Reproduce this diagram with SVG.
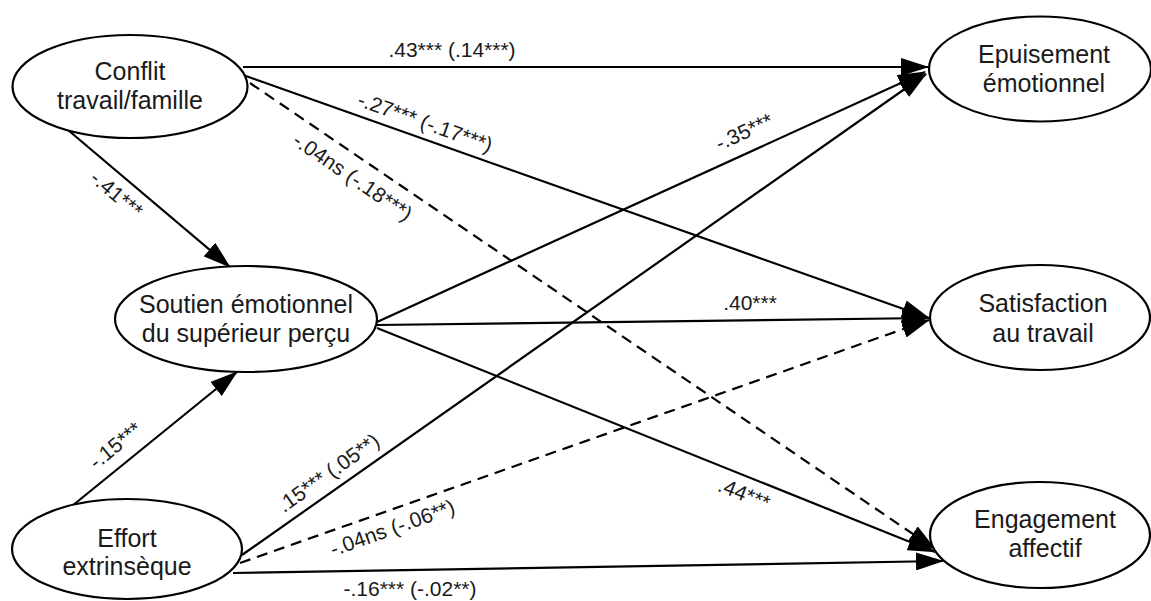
<svg xmlns="http://www.w3.org/2000/svg" width="1151" height="601" viewBox="0 0 1151 601">
<style>
.node ellipse{fill:#fff;stroke:#000;stroke-width:2.2}
.node text{font-family:"Liberation Sans",Arial,sans-serif;font-size:25px;fill:#1a1a1a;text-anchor:middle}
.edge{stroke:#000;stroke-width:2.2;fill:none;marker-end:url(#arr)}
.dash{stroke-dasharray:11 7}
.lbl{font-family:"Liberation Sans",Arial,sans-serif;font-size:21px;fill:#1a1a1a;text-anchor:middle}
</style>
<defs>
<marker id="arr" markerUnits="userSpaceOnUse" markerWidth="28" markerHeight="18" refX="27" refY="9" orient="auto">
<path d="M0,0 L28,9 L0,18 z" fill="#000" stroke="none"/>
</marker>
</defs>
<rect width="1151" height="601" fill="#fff"/>
<g id="connectors">
<line class="edge" x1="243" y1="67" x2="928" y2="67"/>
<line class="edge" x1="243" y1="75" x2="929" y2="318"/>
<line class="edge dash" x1="250" y1="83" x2="935" y2="549"/>
<line class="edge" x1="68" y1="130" x2="230" y2="267"/>
<line class="edge" x1="377" y1="322" x2="925" y2="72"/>
<line class="edge" x1="377" y1="325" x2="929" y2="318"/>
<line class="edge" x1="377" y1="328" x2="935" y2="552"/>
<line class="edge" x1="72" y1="506" x2="237" y2="372"/>
<line class="edge" x1="242" y1="555" x2="926" y2="74"/>
<line class="edge dash" x1="240" y1="563" x2="929" y2="320"/>
<line class="edge" x1="233" y1="573" x2="943" y2="561"/>
</g>
<g id="labels">
<text class="lbl" x="452" y="57">.43*** (.14***)</text>
<text class="lbl" transform="translate(422.7,129) rotate(19.5)">-.27*** (-.17***)</text>
<text class="lbl" transform="translate(348.6,182.8) rotate(34.2)">-.04ns (-.18***)</text>
<text class="lbl" transform="translate(747,138.4) rotate(-24.5)">-.35***</text>
<text class="lbl" x="750" y="310">.40***</text>
<text class="lbl" transform="translate(741.4,500.5) rotate(22)">.44***</text>
<text class="lbl" transform="translate(112,199.8) rotate(40.2)">-.41***</text>
<text class="lbl" transform="translate(119.9,450.9) rotate(-39.1)">-.15***</text>
<text class="lbl" transform="translate(332.6,478.7) rotate(-35.4)">.15*** (.05**)</text>
<text class="lbl" transform="translate(394.8,534.6) rotate(-19.6)">-.04ns (-.06**)</text>
<text class="lbl" x="410" y="596">-.16*** (-.02**)</text>
</g>
<g id="conflit" class="node">
<ellipse cx="130" cy="86.5" rx="117.5" ry="51.5"/>
<text x="130" y="80">Conflit</text>
<text x="130" y="109">travail/famille</text>
</g>
<g id="soutien" class="node">
<ellipse cx="246" cy="319" rx="131" ry="53"/>
<text x="246" y="313">Soutien émotionnel</text>
<text x="246" y="342">du supérieur perçu</text>
</g>
<g id="effort" class="node">
<ellipse cx="127" cy="549" rx="115" ry="50"/>
<text x="127" y="547">Effort</text>
<text x="127" y="575">extrinsèque</text>
</g>
<g id="epuisement" class="node">
<ellipse cx="1040" cy="69" rx="111" ry="52.5"/>
<text x="1044" y="63">Epuisement</text>
<text x="1044" y="92">émotionnel</text>
</g>
<g id="satisfaction" class="node">
<ellipse cx="1040" cy="317.5" rx="110" ry="52.5"/>
<text x="1043" y="312">Satisfaction</text>
<text x="1043" y="342">au travail</text>
</g>
<g id="engagement" class="node">
<ellipse cx="1040" cy="535" rx="110" ry="53"/>
<text x="1045" y="528">Engagement</text>
<text x="1045" y="557">affectif</text>
</g>
</svg>
